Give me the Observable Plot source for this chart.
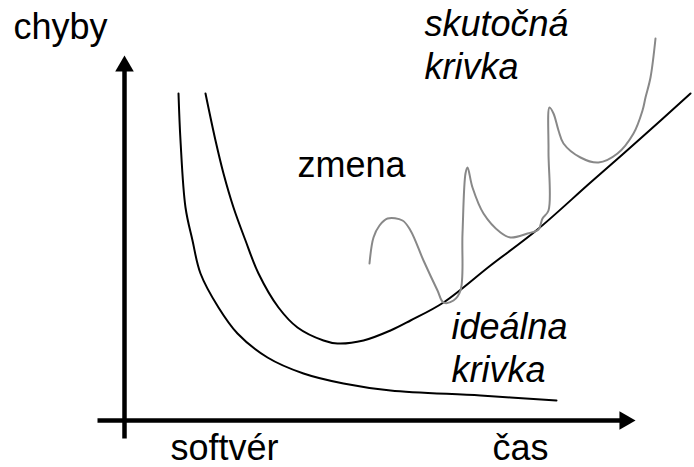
<!DOCTYPE html>
<html>
<head>
<meta charset="utf-8">
<script src="https://cdn.jsdelivr.net/npm/d3@7"></script>
<script src="https://cdn.jsdelivr.net/npm/@observablehq/plot@0.6"></script>
<style>
  html, body { margin: 0; padding: 0; background: #fff; }
</style>
</head>
<body>
<div id="chart"></div>
<script>
// time (t) and errors (e), arbitrary units
const lowerT = [10.8, 11.2, 12.2, 13.6, 15.2, 18.8, 22.6, 28.6, 35.8, 43.8, 53.2, 71.2, 86.4];
const lowerE = [81.75, 70, 53.25, 45, 36.75, 28.25, 21.75, 15.75, 11.75, 9.25, 7.5, 6.25, 5];

const idealT = [16.2, 18.2, 19.8, 21.8, 24.2, 26.8, 30.8, 34.6, 39.8, 42.6, 47.8, 53.2, 57.2, 63.8, 73.2, 82.6, 93.2, 103.2, 113.2];
const idealE = [81.75, 70, 61.75, 53.25, 45, 36.75, 28.25, 23.25, 20, 19.25, 20, 22.5, 25, 29.5, 38.75, 47.75, 59.5, 70.5, 81.75];

const actualT = [49, 49.8, 51, 52.6, 55.6, 57.2, 59.8, 62.6, 63.8, 65.8, 67.2, 67.6, 68.2, 68.6, 69.6, 71.8, 75.2, 77.2, 80.6, 82.8, 83.6, 84.8, 84.8, 85, 85.8, 86.8, 87.8, 91.2, 94.8, 98.6, 101.8, 103.6, 104.2, 105.2, 106.2];
const actualE = [39.25, 45.75, 48.75, 50.5, 50, 47.5, 40, 32.5, 29.5, 30, 32.5, 46.75, 61.75, 63.25, 58.25, 51.75, 47, 45.75, 46.75, 47.75, 50.5, 52.5, 67.5, 78.25, 76.75, 72.5, 69.25, 65.75, 64.5, 66.75, 71.75, 77.5, 80.75, 85.75, 95.5];

// axes
const yAxisT = [0, 0];
const yAxisE = [-4.5, 88.5];
const xAxisT = [-5.4, 100.2];
const xAxisE = [0, 0];
const yTipT = [0], yTipE = [91.25];
const xTipT = [102.2], xTipE = [0];

// labels
const uprightText = ["chyby", "zmena", "softvér", "čas"];
const uprightT = [-22.2, 34.6, 9.2, 73.6];
const uprightE = [95.5, 61, -9.8, -9.8];
const italicText = ["skutočná\nkrivka", "ideálna\nkrivka"];
const italicT = [60, 65.4];
const italicE = [85.5, 9.75];

const pts = (T, E) => T.map((t, i) => ({t, e: E[i]}));
const lbl = (S, T, E) => S.map((s, i) => ({text: s, t: T[i], e: E[i]}));

const font = "'Liberation Sans', Arial, Helvetica, sans-serif";

const chart = Plot.plot({
  width: 694,
  height: 467,
  margin: 0,
  style: {background: "#fff"},
  x: {domain: [-24.8, 114], axis: null},
  y: {domain: [-11.75, 105], axis: null},
  marks: [
    Plot.line(pts(yAxisT, yAxisE), {x: "t", y: "e", stroke: "#000", strokeWidth: 4.5, strokeLinecap: "butt"}),
    Plot.line(pts(xAxisT, xAxisE), {x: "t", y: "e", stroke: "#000", strokeWidth: 4.5, strokeLinecap: "butt"}),
    Plot.dot(pts(yTipT, yTipE), {x: "t", y: "e", symbol: "triangle", r: 6.9, fill: "#000", stroke: null, dy: 10.67}),
    Plot.dot(pts(xTipT, xTipE), {x: "t", y: "e", symbol: "triangle", r: 6.9, fill: "#000", stroke: null, rotate: 90, dx: -10.67}),
    Plot.line(pts(lowerT, lowerE), {x: "t", y: "e", curve: "catmull-rom", stroke: "#000", strokeWidth: 2}),
    Plot.line(pts(idealT, idealE), {x: "t", y: "e", curve: "catmull-rom", stroke: "#000", strokeWidth: 2}),
    Plot.line(pts(actualT, actualE), {x: "t", y: "e", curve: "catmull-rom", stroke: "#888", strokeWidth: 2}),
    Plot.text(lbl(uprightText, uprightT, uprightE), {x: "t", y: "e", text: "text", textAnchor: "start", lineAnchor: "bottom", fontSize: 36, fontFamily: font, fill: "#000"}),
    Plot.text(lbl(italicText, italicT, italicE), {x: "t", y: "e", text: "text", textAnchor: "start", lineAnchor: "bottom", lineHeight: 1.17, fontSize: 36, fontStyle: "italic", fontFamily: font, fill: "#000"})
  ]
});
document.getElementById("chart").appendChild(chart);
</script>
</body>
</html>
